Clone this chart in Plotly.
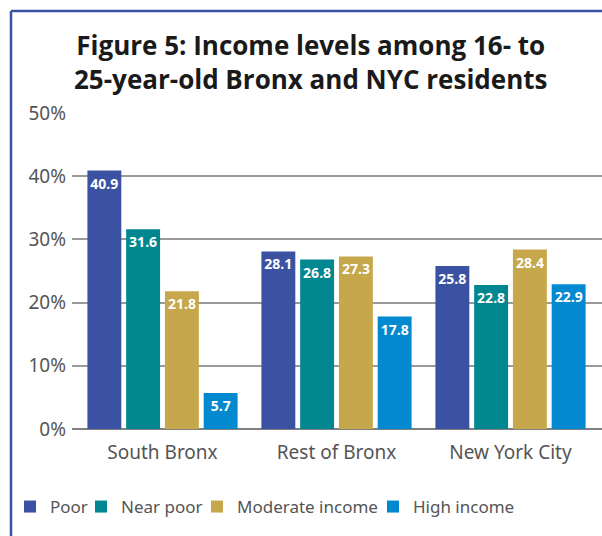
import plotly.graph_objects as go

categories = ["South Bronx", "Rest of Bronx", "New York City"]
series_names = ["Poor", "Near poor", "Moderate income", "High income"]
poor = [40.9, 28.1, 25.8]
near_poor = [31.6, 26.8, 22.8]
moderate_income = [21.8, 27.3, 28.4]
high_income = [5.7, 17.8, 22.9]
colors = ["#3b52a3", "#00878f", "#c7a74b", "#0289d0"]
y_ticks = [0, 10, 20, 30, 40, 50]
title_text = "Figure 5: Income levels among 16- to<br>25-year-old Bronx and NYC residents"

W, H = 602, 536
L, R, T, B = 72, 0, 113, 107
plot_w = W - L - R
plot_h = H - T - B

def px_x(px):
    return (px - L) / plot_w

def px_y(py):
    return (H - B - py) / plot_h

# one legend per series so each entry sits at its own spot along the bottom
legend_ids = ["legend", "legend2", "legend3", "legend4"]
legend_left = [10, 81, 197, 373]

fig = go.Figure()
for name, vals, col, lg in zip(series_names, [poor, near_poor, moderate_income, high_income],
                               colors, legend_ids):
    fig.add_trace(go.Bar(
        name=name, x=categories, y=vals, marker=dict(color=col, line=dict(width=0)),
        text=[f"{v:.1f}" for v in vals], textposition="inside", insidetextanchor="end",
        textangle=0,
        textfont=dict(family="Open Sans", size=14, color="white", weight="bold"),
        constraintext="none", cliponaxis=False, legend=lg,
    ))

# frame lines along the left and top edges
frame_color = "#3b52a3"
fig.add_shape(type="line", xref="paper", yref="paper", x0=px_x(11), x1=px_x(W + 5),
              y0=px_y(11), y1=px_y(11), line=dict(color=frame_color, width=2.5))
fig.add_shape(type="line", xref="paper", yref="paper", x0=px_x(11), x1=px_x(11),
              y0=px_y(11), y1=px_y(H + 5), line=dict(color=frame_color, width=2.5))

fig.add_annotation(
    text=title_text, xref="paper", yref="paper", x=px_x(310), y=px_y(25),
    xanchor="center", yanchor="top", showarrow=False, align="center",
    font=dict(family="Open Sans", size=26, color="#1a1a1a", weight="bold"),
)

legend_style = dict(orientation="h", xanchor="left", yanchor="top", y=px_y(489),
                    font=dict(size=17, color="#555555"), itemwidth=30,
                    bgcolor="rgba(0,0,0,0)")

fig.update_layout(
    width=W, height=H,
    margin=dict(l=L, r=R, t=T, b=B, pad=0),
    paper_bgcolor="white", plot_bgcolor="white",
    barmode="group", bargap=0.109, bargroupgap=0.125,
    font=dict(family="Noto Sans", color="#555555"),
    xaxis=dict(
        range=[(L - 162.5) / 174, (L - 162.5) / 174 + plot_w / 174],
        showgrid=False, showline=False, ticks="", ticklabelstandoff=10,
        tickfont=dict(size=19, color="#555555"),
    ),
    yaxis=dict(
        range=[0, 50], tickvals=y_ticks, ticktext=[f"{t}%" for t in y_ticks],
        showgrid=True, gridcolor="#9a9a9a", gridwidth=1.5,
        zeroline=True, zerolinecolor="#808080", zerolinewidth=2,
        showline=False, ticks="", ticklabelstandoff=5,
        tickfont=dict(size=19, color="#555555"),
    ),
    showlegend=True,
    legend=dict(x=px_x(legend_left[0]), **legend_style),
    legend2=dict(x=px_x(legend_left[1]), **legend_style),
    legend3=dict(x=px_x(legend_left[2]), **legend_style),
    legend4=dict(x=px_x(legend_left[3]), **legend_style),
)

fig.write_html("out.html")
